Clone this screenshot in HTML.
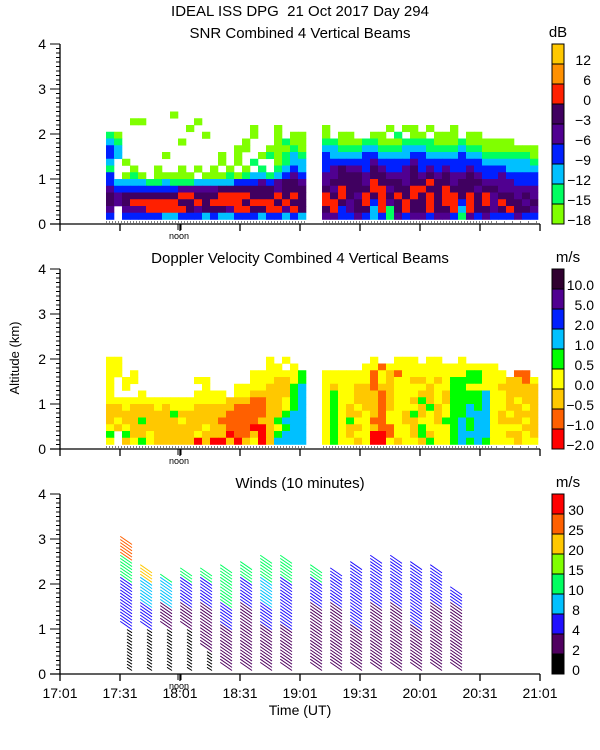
<!DOCTYPE html>
<html><head><meta charset="utf-8"><style>
html,body{margin:0;padding:0;background:#fff;}
svg{display:block;font-family:"Liberation Sans",sans-serif;}
</style></head><body>
<svg id="chart" width="600" height="750" viewBox="0 0 600 750" xmlns="http://www.w3.org/2000/svg">
<rect x="0" y="0" width="600" height="750" fill="#fff"/>
<text x="300" y="16" font-size="15" text-anchor="middle">IDEAL ISS DPG&#160; 21 Oct 2017 Day 294</text>
<text x="300" y="38" font-size="15" text-anchor="middle">SNR Combined 4 Vertical Beams</text>
<text x="300" y="263" font-size="15" text-anchor="middle">Doppler Velocity Combined 4 Vertical Beams</text>
<text x="300" y="488" font-size="15" text-anchor="middle">Winds (10 minutes)</text>
<text x="0" y="0" font-size="13" text-anchor="middle" transform="translate(19,358) rotate(-90)">Altitude (km)</text>
<text x="300" y="715" font-size="14" text-anchor="middle">Time (UT)</text>
<g id="marks"></g>
<g id="axes"></g>
</svg>
<script>
// ---- data ----
const xTickLabels = ['17:01','17:31','18:01','18:31','19:01','19:31','20:01','20:31','21:01'];
const yTickLabels = ['0','1','2','3','4'];
const snrLabels = ['12','6','0','\u22123','\u22126','\u22129','\u221212','\u221215','\u221218'];
const dopLabels = ['10.0','5.0','2.0','1.0','0.5','0.0','\u22120.5','\u22121.0','\u22122.0'];
const windLabels = ['30','25','20','15','10','8','4','2','0'];
const snrColors = ['#80ff00','#00ff60','#00c0ff','#0020ff','#500090','#400060','#ff2000','#ff9000','#ffc800'];
const dopColors = ['#ff0000','#ff6000','#ffc800','#ffff00','#00ff00','#00c0ff','#0020ff','#500090','#300030'];
const windColors = ['#000000','#500060','#2010ff','#00c0ff','#00ff60','#80ff00','#ffc800','#ff6000','#ff0000'];
const windThresholds = [0,2,4,8,10,15,20,25,30];
// heatmap blocks: start minute after 17:01; 4-minute columns; rows 0.15 km from 0.1 km (top row first)
const blockStarts = [23, 131];
const snrA = [
"........0................",
"...00......0.............",
"..........0.......0..0...",
"10..........0.....0..0.00",
"21.......0.......0...0100",
"32..............00..00010",
"32.....0......0.0..010121",
"2.0...........0.0.1..0122",
"1..0..0..0.0.0.0.0.1.1232",
"3.010.00000.0001012212343",
"3222211211122222333434554",
"4333333334444455555554555",
"5455555556655566665556565",
"5456666665565666656665655",
"4.44466666545554665566465",
"3.33333223332322333233232"];
const snrB = [
"...........................",
"...........................",
"0.......0.00.0..0..........",
"0.00..00.1.00.000.00.......",
"110001100011110001000000...",
"221112211122211112110000000",
"322223322223322223221111110",
"333333433334333333332222221",
"345443543345343433433332222",
"445554554445454544543343333",
"455554655545565545554444333",
"546555664556655655545544444",
"656546565656565665656455454",
"665456364565565663656465545",
"563455261565565562655456554",
"443343231434434431434333433"];
const dopA = [
".........................",
".........................",
".........................",
"33..................3.3..",
"33..................33.3.",
"33.3..............3333334",
"3.33.......33.....3332234",
"3.3.........3...333322245",
"3...3......3333.332222245",
"3333333333333332221122345",
"2232223233322222111122345",
"2222222242222221111122455",
"2322422223222211111224555",
"3232222222223221110023455",
"4.42232222232220112024555",
"3.23432222202002023025555"];
const dopB = [
"...........................",
"...........................",
"...........................",
"......3..333.33..3.........",
".....33133333333333333.....",
"33333313213333333344333.11.",
"333333132332232344443332213",
"323322122333323344333322222",
"343322212333223244445332222",
"343322212332423244445332322",
"343232212333242344545332232",
"343223213324232344555323222",
"343433113322332445455322232",
"343223211332433345455333322",
"343233001332423345555332232",
"343323003233243345454333233"];
// winds: column minutes, top heights (km), speeds (m/s) per 0.5 km level
const windMinutes = [35,45,55,65,75,85,95,105,115,130,140,150,160,170,180,190,200];
const windTops = [2.9,2.3,2.1,2.2,2.2,2.3,2.4,2.5,2.5,2.3,2.2,2.4,2.5,2.5,2.4,2.3,1.8];
const windSpeeds = [
[1,1,4,6,12,28],[1,1,4,8,20],[1,1,3,8,14],[1,1,3,6,10],[1,2,3,6,12],[2,3,4,10,14],
[3,3,3,6,10],[3,3,4,8,12],[3,3,4,6,10],[3,3,3,5,10],[3,3,3,5,6],[3,3,4,5,6],
[3,3,3,5,6],[3,3,3,5,6],[3,3,4,5,6],[3,3,3,5],[3,3,3,5]];

// ---- scales ----
const NS='http://www.w3.org/2000/svg';
const bases=[224,449,674];
function xOf(min){return 60+2*min;}
function yOf(p,km){return bases[p]-45*km;}
const marks=document.getElementById('marks');
const axes=document.getElementById('axes');
function mk(tag,attrs,parent){const e=document.createElementNS(NS,tag);for(const k in attrs)e.setAttribute(k,attrs[k]);parent.appendChild(e);return e;}

function drawGrid(p,rows,start,colors,name){
  const n=rows.length;
  rows.forEach((row,i)=>{
    const r=n-1-i;
    const k0=0.1+0.15*r,k1=k0+0.15;
    for(let c=0;c<row.length;c++){
      const ch=row[c]; if(ch==='.')continue;
      const x0=xOf(start+4*c),x1=xOf(start+4*(c+1));
      const el=mk('rect',{x:x0,y:yOf(p,k1),width:x1-x0+0.3,height:yOf(p,k0)-yOf(p,k1)+0.3,fill:colors[+ch]},marks);
      
      
    }
  });
}
drawGrid(0,snrA,blockStarts[0],snrColors,'snr');
drawGrid(0,snrB,blockStarts[1],snrColors,'snr');
drawGrid(1,dopA,blockStarts[0],dopColors,'doppler');
drawGrid(1,dopB,blockStarts[1],dopColors,'doppler');

function windColor(s){let i=0;for(let k=0;k<windThresholds.length;k++)if(s>=windThresholds[k])i=k;return windColors[i];}
windMinutes.forEach((m,j)=>{
  const x=xOf(m);
  for(let h=0.1;h<=windTops[j]+1e-6;h+=0.07){
    const lv=Math.min(Math.floor(h/0.5),windSpeeds[j].length-1);
    const s=windSpeeds[j][lv];
    const y=yOf(2,h);
    const col=windColor(s);
    const len=s<2?4:13;
    const el=mk('line',{x1:x-len*0.75,y1:y-len*0.55,x2:x+2,y2:y+1,stroke:col,'stroke-width':1},marks);
    
    
  }
});

// ---- axes ----
for(let p=0;p<3;p++){
  mk('line',{x1:60,y1:yOf(p,4),x2:60,y2:bases[p],stroke:'#000','stroke-width':1.3},axes);
  mk('line',{x1:50,y1:bases[p],x2:540,y2:bases[p],stroke:'#000','stroke-width':1.3},axes);
  for(let t=0;t<=40;t++){
    const y=yOf(p,t/10);
    mk('line',{x1:t%10===0?50:56,y1:y,x2:60,y2:y,stroke:'#000','stroke-width':1},axes);
  }
  yTickLabels.forEach((lab,i)=>{
    const t=mk('text',{x:46,y:yOf(p,i)+5,'font-size':14,'text-anchor':'end'},axes);t.textContent=lab;
    
    
  });
  xTickLabels.forEach((lab,i)=>{
    const x=xOf(30*i);
    mk('line',{x1:x,y1:bases[p],x2:x,y2:bases[p]+7,stroke:'#000','stroke-width':1.3},axes);
    if(p===2){const t=mk('text',{x:x,y:698,'font-size':14,'text-anchor':'middle'},axes);t.textContent=lab;
      
      }
  });
  mk('line',{x1:178,y1:bases[p],x2:178,y2:bases[p]+6,stroke:'#000'},axes);
  mk('line',{x1:181,y1:bases[p],x2:181,y2:bases[p]+6,stroke:'#000'},axes);
  const nt=mk('text',{x:179,y:bases[p]+15,'font-size':9,'text-anchor':'middle'},axes);nt.textContent='noon';
  
  
  if(p<2){
    mk('line',{x1:106,y1:bases[p]-2,x2:306,y2:bases[p]-2,stroke:'#000','stroke-dasharray':'1,2'},axes);
    mk('line',{x1:323,y1:bases[p]-2,x2:492,y2:bases[p]-2,stroke:'#000','stroke-dasharray':'1,2'},axes);
    mk('line',{x1:496,y1:bases[p]-2,x2:540,y2:bases[p]-2,stroke:'#000','stroke-dasharray':'1,7'},axes);
  }
}
// ---- colorbars ----
function colorbar(p,colors,labels,unit,anchor,lx,name){
  const top=yOf(p,4);
  for(let i=0;i<9;i++){
    const el=mk('rect',{x:552,y:top+20*i,width:12,height:20,fill:colors[8-i],stroke:'#000','stroke-width':1},axes);
    
    
    const t=mk('text',{x:lx,y:top+20*(i+1)+1,'font-size':14,'text-anchor':anchor},axes);t.textContent=labels[i];
    
    
  }
  const u=mk('text',{x:p===0?558:568,y:top-7,'font-size':15,'text-anchor':'middle'},axes);u.textContent=unit;
  
  
}
colorbar(0,snrColors,snrLabels,'dB','end',591,'snr');
colorbar(1,dopColors,dopLabels,'m/s','end',594,'doppler');
colorbar(2,windColors,windLabels,'m/s','middle',576,'wind');
</script>
</body></html>
